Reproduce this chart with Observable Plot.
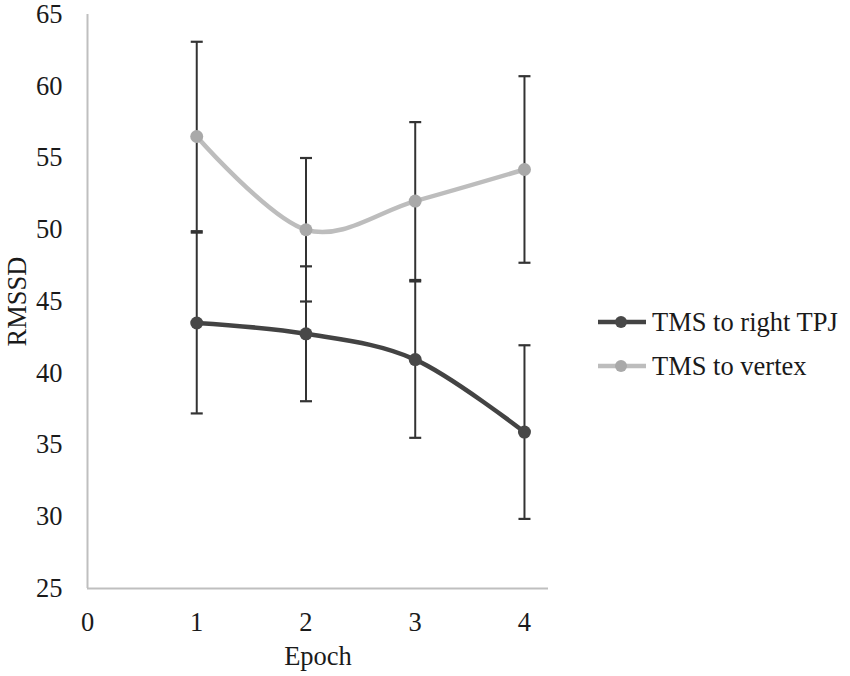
<!DOCTYPE html>
<html>
<head>
<meta charset="utf-8">
<script src="https://cdn.jsdelivr.net/npm/d3@7"></script>
<script src="https://cdn.jsdelivr.net/npm/@observablehq/plot@0.6"></script>
<style>
  html, body { margin: 0; padding: 0; background: #fff; }
  #wrap { position: relative; width: 850px; height: 676px; font-family: "Liberation Serif", "Times New Roman", serif; }
  #legend { position: absolute; left: 596px; top: 300px; font-size: 26.5px; color: #1a1a1a; }
  .item { display: flex; align-items: center; height: 44px; }
  .item svg { margin-right: 4px; }
</style>
</head>
<body>
<div id="wrap"><div id="chart"></div><div id="legend"></div></div>
<script>
const epochs = [1, 2, 3, 4];
const seriesNames = ["TMS to right TPJ", "TMS to vertex"];
const tpjMean = [43.5, 42.75, 40.95, 35.9];
const tpjErr = [6.3, 4.7, 5.45, 6.05];
const vertexMean = [56.5, 50.0, 52.0, 54.2];
const vertexErr = [6.6, 5.0, 5.5, 6.5];
const xTicks = [0, 1, 2, 3, 4];
const yTicks = [25, 30, 35, 40, 45, 50, 55, 60, 65];

const lineColors = {"TMS to right TPJ": "#434343", "TMS to vertex": "#bdbdbd"};
const dotColors = {"TMS to right TPJ": "#484848", "TMS to vertex": "#a9a9a9"};

const rows = [];
epochs.forEach((e, i) => {
  rows.push({epoch: e, series: seriesNames[0], mean: tpjMean[i], lo: tpjMean[i] - tpjErr[i], hi: tpjMean[i] + tpjErr[i]});
  rows.push({epoch: e, series: seriesNames[1], mean: vertexMean[i], lo: vertexMean[i] - vertexErr[i], hi: vertexMean[i] + vertexErr[i]});
});
const caps = rows.flatMap(d => [{epoch: d.epoch, v: d.lo}, {epoch: d.epoch, v: d.hi}]);

const hbar = { draw(ctx, size) { const w = Math.sqrt(size / Math.PI); ctx.moveTo(-w, 0); ctx.lineTo(w, 0); } };

const chart = Plot.plot({
  width: 850,
  height: 676,
  marginLeft: 87,
  marginRight: 302,
  marginTop: 14,
  marginBottom: 88,
  style: {fontFamily: "Liberation Serif, Times New Roman, serif", fontSize: "26.5px", color: "#1a1a1a", background: "#fff"},
  x: {domain: [0, 4.22], ticks: xTicks},
  y: {domain: [25, 65], ticks: yTicks},
  marks: [
    Plot.ruleX([0], {stroke: "#bfbfbf", strokeWidth: 2}),
    Plot.ruleY([25], {stroke: "#bfbfbf", strokeWidth: 2}),
    Plot.axisY({ticks: yTicks, tickSize: 0, tickPadding: 25, tickFormat: d => String(d), label: "RMSSD", labelAnchor: "center", labelOffset: 80, labelArrow: "none"}),
    Plot.axisX({ticks: xTicks, tickSize: 0, tickPadding: 24, tickFormat: d => String(d), label: "Epoch", labelAnchor: "center", labelOffset: 76, labelArrow: "none"}),
    Plot.ruleX(rows, {x: "epoch", y1: "lo", y2: "hi", stroke: "#333", strokeWidth: 2}),
    Plot.dot(caps, {x: "epoch", y: "v", symbol: hbar, r: 6, stroke: "#333", strokeWidth: 2.2}),
    Plot.line(rows, {x: "epoch", y: "mean", z: "series", stroke: d => lineColors[d.series], strokeWidth: 4.5, curve: "cardinal"}),
    Plot.dot(rows, {x: "epoch", y: "mean", fill: d => dotColors[d.series], r: 6.5})
  ]
});
document.getElementById("chart").appendChild(chart);

const legend = document.getElementById("legend");
seriesNames.forEach(name => {
  const item = document.createElement("div");
  item.className = "item";
  item.innerHTML = `<svg width="52" height="14"><line x1="2" y1="7" x2="50" y2="7" stroke="${lineColors[name]}" stroke-width="4.5"/><circle cx="25" cy="7" r="6" fill="${dotColors[name]}"/></svg><span>${name}</span>`;
  legend.appendChild(item);
});
</script>
</body>
</html>
